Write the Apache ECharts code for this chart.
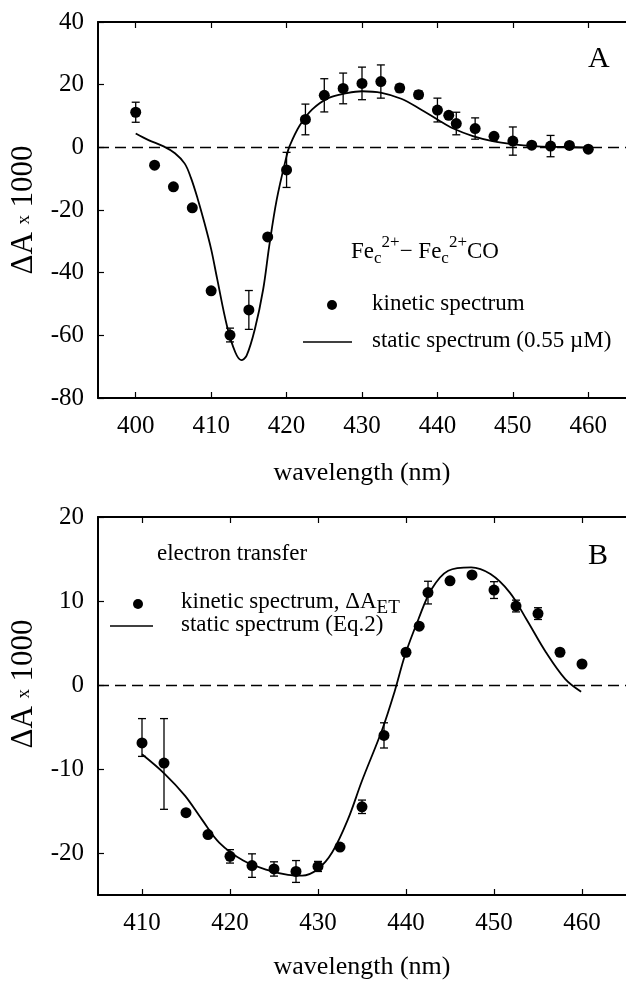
<!DOCTYPE html>
<html>
<head>
<meta charset="utf-8">
<script src="https://cdn.jsdelivr.net/npm/echarts@6/dist/echarts.min.js"></script>
<style>
  html, body { margin: 0; padding: 0; background: #fff; }
  #chart { width: 626px; height: 981px; }
</style>
</head>
<body>
<div id="chart"></div>
<script>
'use strict';

// panel A: Fec2+ - Fec2+CO
var waveA = [400, 402.5, 405, 407.5, 410, 412.5, 415, 417.5, 420, 422.5, 425, 427.5, 430,
             432.5, 435, 437.5, 440, 441.5, 442.5, 445, 447.5, 450, 452.5, 455, 457.5, 460];
var kinA = [11.2, -5.7, -12.6, -19.3, -45.8, -59.9, -51.9, -28.6, -7.2, 8.9, 16.6, 18.8, 20.4,
            21.0, 18.9, 16.8, 11.9, 10.2, 7.6, 6.0, 3.5, 2.0, 0.7, 0.4, 0.6, -0.6];
var errA = [3.2, 0, 0, 0, 0, 2.2, 6.2, 0, 5.6, 4.9, 5.3, 4.9, 5.2,
            5.3, 1.2, 1.2, 3.8, 0, 3.6, 3.4, 0, 4.5, 0, 3.4, 0, 0];
var staticAx = [400, 401.7, 403.7, 405.2, 406.5, 407.3, 408.2, 409.1, 410, 410.8, 412.1, 413.2,
                414, 414.7, 415.8, 416.9, 417.7, 418.7, 420, 420.4, 421.7, 423.4, 425.6, 428,
                430, 432.6, 435.2, 437.8, 440, 442.1, 444.7, 447.3, 450, 452.6, 456.9, 460];
var staticAy = [4.4, 2.3, 0.3, -1.9, -5.2, -9.6, -16.3, -24.0, -32.5, -42, -57, -65.4,
                -67.9, -66.5, -58, -45.3, -31.5, -16.6, -2.8, 0.4, 6.8, 12.1, 15.8, 17.3,
                17.9, 17.4, 15.5, 12.1, 8.9, 6.0, 3.6, 2.0, 1.0, 0.4, 0.1, -0.1];
var ticksA = [400, 410, 420, 430, 440, 450, 460];

// panel B: electron transfer
var waveB = [410, 412.5, 415, 417.5, 420, 422.5, 425, 427.5, 430, 432.5, 435, 437.5, 440,
             441.5, 442.5, 445, 447.5, 450, 452.5, 455, 457.5, 460];
var kinB = [-6.9, -9.3, -15.2, -17.8, -20.4, -21.5, -21.9, -22.2, -21.6, -19.3, -14.5, -6.0, 3.9,
            7.0, 11.0, 12.4, 13.1, 11.3, 9.4, 8.5, 3.9, 2.5];
var errBup = [2.9, 5.3, 0, 0, 0.8, 1.4, 0.85, 1.3, 0.6, 0, 0.8, 1.5, 0,
              0, 1.35, 0, 0, 1, 0.7, 0.7, 0, 0];
var errBdn = [1.6, 5.5, 0, 0, 0.8, 1.4, 0.85, 1.3, 0.6, 0, 0.8, 1.5, 0,
              0, 1.35, 0, 0, 1, 0.7, 0.7, 0, 0];
var staticBx = [410, 412.6, 414.9, 416.8, 418.8, 421.5, 424.2, 426.6, 428.2, 430, 431.6, 433.4,
                435, 437.3, 438.7, 439.9, 441.4, 442.9, 444.8, 447.4, 449.6, 451.8, 453.7,
                455.9, 458.1, 459.9];
var staticBy = [-8.25, -10.6, -13.2, -16.0, -18.8, -20.9, -22.0, -22.6, -22.7, -21.9, -19.95, -16.0,
                -11.4, -5.3, -0.8, 3.6, 7.8, 11.4, 13.6, 14.0, 13.2, 11.0, 7.8,
                3.9, 0.7, -0.8];
var ticksB = [410, 420, 430, 440, 450, 460];
var yTicksB = [-20, -10, 0, 10, 20];

var FONT = 'Liberation Serif';

function pairs(xs, ys) {
    var out = [];
    for (var i = 0; i < xs.length; i++) {
        out.push([xs[i], ys[i]]);
    }
    return out;
}

function errData(xs, ys, up, dn) {
    var out = [];
    for (var i = 0; i < xs.length; i++) {
        if (up[i] > 0) {
            out.push([xs[i], ys[i] - dn[i], ys[i] + up[i]]);
        }
    }
    return out;
}

function renderErr(params, api) {
    var x = api.value(0);
    var top = api.coord([x, api.value(2)]);
    var bot = api.coord([x, api.value(1)]);
    var w = 4;
    var st = { stroke: '#000', lineWidth: 1.3 };
    return {
        type: 'group',
        children: [
            { type: 'line', shape: { x1: top[0], y1: top[1], x2: bot[0], y2: bot[1] }, style: st },
            { type: 'line', shape: { x1: top[0] - w, y1: top[1], x2: top[0] + w, y2: top[1] }, style: st },
            { type: 'line', shape: { x1: bot[0] - w, y1: bot[1], x2: bot[0] + w, y2: bot[1] }, style: st }
        ]
    };
}

var axisLine = { show: true, onZero: false, lineStyle: { color: '#000', width: 2 } };
var tickStyle = { inside: true, length: 6, lineStyle: { color: '#000', width: 1.2 } };
var labelStyle = { color: '#000', fontFamily: FONT, fontSize: 25 };

function xAxes(grid, min, ticks, gap) {
    return [{
        type: 'value', gridIndex: grid, min: min, max: 465, position: 'bottom',
        name: 'wavelength (nm)', nameLocation: 'middle', nameGap: gap,
        nameTextStyle: { color: '#000', fontFamily: FONT, fontSize: 26 },
        axisLine: axisLine,
        axisTick: Object.assign({ customValues: ticks }, tickStyle),
        axisLabel: Object.assign({ customValues: ticks, margin: 16 }, labelStyle),
        splitLine: { show: false }
    }, {
        type: 'value', gridIndex: grid, min: min, max: 465, position: 'top',
        axisLine: axisLine,
        axisTick: Object.assign({ customValues: ticks }, tickStyle),
        axisLabel: { show: false },
        splitLine: { show: false }
    }];
}

var yName = '{a|ΔA} {b|x} {a|1000}';
var yNameStyle = {
    color: '#000', fontFamily: FONT, fontSize: 30,
    rich: {
        a: { fontFamily: FONT, fontSize: 31, color: '#000' },
        b: { fontFamily: FONT, fontSize: 19, color: '#000' }
    }
};

var zeroLine = {
    silent: true, symbol: 'none', label: { show: false },
    lineStyle: { color: '#000', type: [11, 6], width: 1.3 },
    data: [{ yAxis: 0 }]
};

var option = {
    backgroundColor: '#fff',
    animation: false,
    grid: [
        { left: 98, right: -9, top: 22, height: 376 },
        { left: 98, right: -9, top: 517, height: 379 }
    ],
    xAxis: xAxes(0, 395, ticksA, 62).concat(xAxes(1, 405, ticksB, 59)),
    yAxis: [{
        type: 'value', gridIndex: 0, min: -80, max: 40, interval: 20,
        name: yName, nameLocation: 'middle', nameGap: 58, nameRotate: 90,
        nameTextStyle: yNameStyle,
        axisLine: axisLine, axisTick: tickStyle,
        axisLabel: Object.assign({ margin: 14 }, labelStyle),
        splitLine: { show: false }
    }, {
        type: 'value', gridIndex: 1, min: -25, max: 20,
        name: yName, nameLocation: 'middle', nameGap: 58, nameRotate: 90,
        nameTextStyle: Object.assign({ padding: [0, 0, 0, 44] }, yNameStyle),
        axisLine: axisLine,
        axisTick: Object.assign({ customValues: yTicksB }, tickStyle),
        axisLabel: Object.assign({ customValues: yTicksB, margin: 14 }, labelStyle),
        splitLine: { show: false }
    }],
    series: [{
        name: 'static A', type: 'line', xAxisIndex: 0, yAxisIndex: 0,
        data: pairs(staticAx, staticAy), smooth: 0.35, symbol: 'none',
        lineStyle: { color: '#000', width: 1.8 },
        markLine: zeroLine
    }, {
        name: 'err A', type: 'custom', xAxisIndex: 0, yAxisIndex: 0,
        renderItem: renderErr, encode: { x: 0, y: [1, 2] },
        data: errData(waveA, kinA, errA, errA), z: 3
    }, {
        name: 'kinetic A', type: 'scatter', xAxisIndex: 0, yAxisIndex: 0,
        data: pairs(waveA, kinA), symbol: 'circle', symbolSize: 11,
        itemStyle: { color: '#000', opacity: 1 }, z: 4
    }, {
        name: 'static B', type: 'line', xAxisIndex: 2, yAxisIndex: 1,
        data: pairs(staticBx, staticBy), smooth: 0.35, symbol: 'none',
        lineStyle: { color: '#000', width: 1.8 },
        markLine: zeroLine
    }, {
        name: 'err B', type: 'custom', xAxisIndex: 2, yAxisIndex: 1,
        renderItem: renderErr, encode: { x: 0, y: [1, 2] },
        data: errData(waveB, kinB, errBup, errBdn), z: 3
    }, {
        name: 'kinetic B', type: 'scatter', xAxisIndex: 2, yAxisIndex: 1,
        data: pairs(waveB, kinB), symbol: 'circle', symbolSize: 11,
        itemStyle: { color: '#000', opacity: 1 }, z: 4
    }],
    graphic: [
        // panel letters
        { type: 'text', left: 588, top: 44, style: { text: 'A', font: '30px "Liberation Serif"', fill: '#000' } },
        { type: 'text', left: 588, top: 541, style: { text: 'B', font: '30px "Liberation Serif"', fill: '#000' } },
        // legend A
        {
            type: 'text', left: 351, top: 234,
            style: {
                text: 'Fe{sub|c}{sup|2+}− Fe{sub|c}{sup|2+}CO',
                font: '23px "Liberation Serif"', fill: '#000',
                rich: {
                    sub: { fontFamily: FONT, fontSize: 17, padding: [14, 0, 0, 0] },
                    sup: { fontFamily: FONT, fontSize: 17, padding: [0, 0, 18, 0] }
                }
            }
        },
        { type: 'circle', shape: { cx: 332, cy: 305, r: 5 }, style: { fill: '#000' } },
        { type: 'text', left: 372, top: 292, style: { text: 'kinetic spectrum', font: '23px "Liberation Serif"', fill: '#000' } },
        { type: 'line', shape: { x1: 303, y1: 342, x2: 352, y2: 342 }, style: { stroke: '#000', lineWidth: 1.5 } },
        { type: 'text', left: 372, top: 329, style: { text: 'static spectrum (0.55 µM)', font: '23px "Liberation Serif"', fill: '#000' } },
        // legend B
        { type: 'text', left: 157, top: 542, style: { text: 'electron transfer', font: '23px "Liberation Serif"', fill: '#000' } },
        { type: 'circle', shape: { cx: 138, cy: 604, r: 5 }, style: { fill: '#000' } },
        {
            type: 'text', left: 181, top: 590,
            style: {
                text: 'kinetic spectrum, ΔA{sub|ET}',
                font: '23px "Liberation Serif"', fill: '#000',
                rich: { sub: { fontFamily: FONT, fontSize: 19, padding: [14, 0, 0, 0] } }
            }
        },
        { type: 'line', shape: { x1: 110, y1: 626, x2: 153, y2: 626 }, style: { stroke: '#000', lineWidth: 1.5 } },
        { type: 'text', left: 181, top: 613, style: { text: 'static spectrum (Eq.2)', font: '23px "Liberation Serif"', fill: '#000' } }
    ]
};

var myChart = echarts.init(document.getElementById('chart'));
myChart.setOption(option);
</script>
</body>
</html>
